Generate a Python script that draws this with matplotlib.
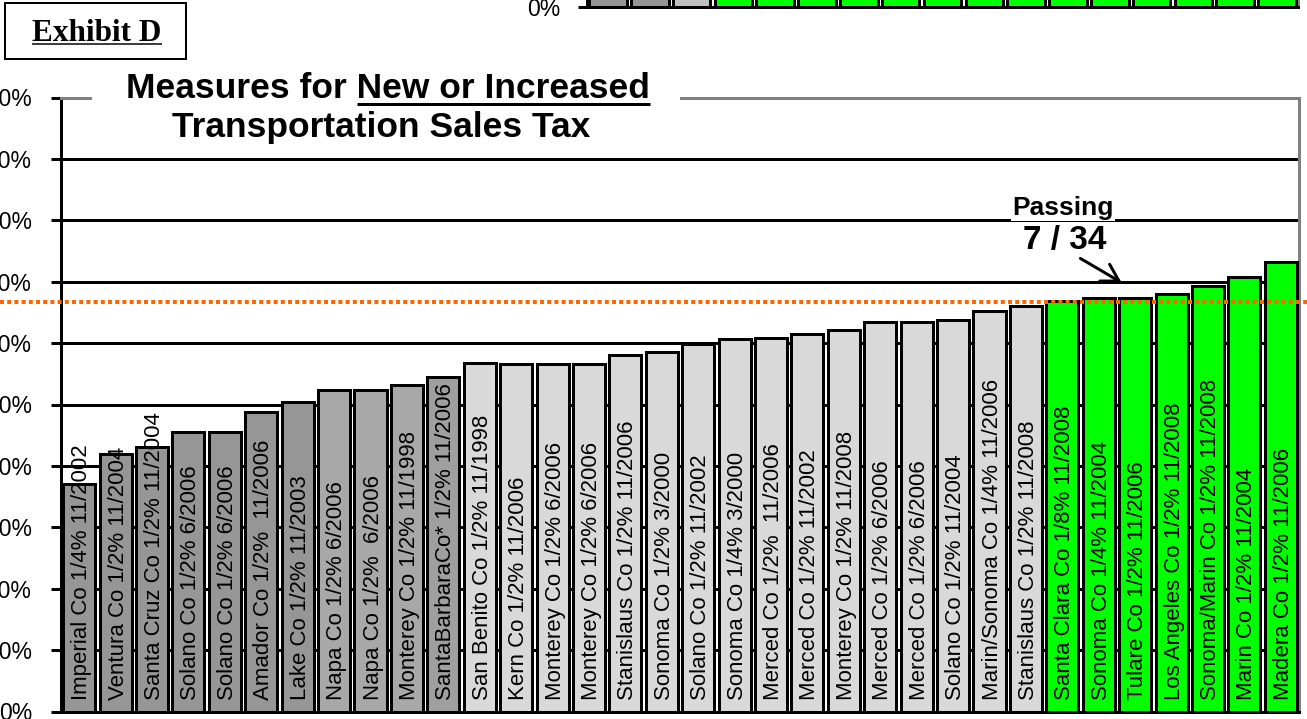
import matplotlib
matplotlib.use("Agg")
import matplotlib.pyplot as plt
import numpy as np
from matplotlib.patches import Rectangle, FancyArrowPatch
from matplotlib.lines import Line2D
from matplotlib.ticker import PercentFormatter

plt.rcParams['font.family'] = ['Liberation Sans', 'DejaVu Sans']

# ---------------- data ----------------
labels = [
    "Imperial Co 1/4% 11/2002", "Ventura Co 1/2% 11/2004", "Santa Cruz Co 1/2% 11/2004",
    "Solano Co 1/2% 6/2006", "Solano Co 1/2% 6/2006", "Amador Co 1/2%  11/2006",
    "Lake Co 1/2% 11/2003", "Napa Co 1/2% 6/2006", "Napa Co 1/2%  6/2006",
    "Monterey Co 1/2% 11/1998", "SantaBarbaraCo* 1/2% 11/2006", "San Benito Co 1/2% 11/1998",
    "Kern Co 1/2% 11/2006", "Monterey Co 1/2% 6/2006", "Monterey Co 1/2% 6/2006",
    "Stanislaus Co 1/2% 11/2006", "Sonoma Co 1/2% 3/2000", "Solano Co 1/2% 11/2002",
    "Sonoma Co 1/4% 3/2000", "Merced Co 1/2%  11/2006", "Merced Co 1/2% 11/2002",
    "Monterey Co 1/2% 11/2008", "Merced Co 1/2% 6/2006", "Merced Co 1/2% 6/2006",
    "Solano Co 1/2% 11/2004", "Marin/Sonoma Co 1/4% 11/2006", "Stanislaus Co 1/2% 11/2008",
    "Santa Clara Co 1/8% 11/2008", "Sonoma Co 1/4% 11/2004", "Tulare Co 1/2% 11/2006",
    "Los Angeles Co 1/2% 11/2008", "Sonoma/Marin Co 1/2% 11/2008", "Marin Co 1/2% 11/2004",
    "Madera Co 1/2% 11/2006",
]
values = [37.1, 41.9, 43.0, 45.5, 45.5, 48.8, 50.4, 52.4, 52.4, 53.1, 54.4, 56.7,
          56.6, 56.6, 56.6, 58.0, 58.6, 59.9, 60.6, 60.9, 61.5, 62.2, 63.5, 63.4,
          63.75, 65.3, 66.0, 66.8, 67.3, 67.3, 68.0, 69.3, 70.8, 73.2]
status = (['dark'] * 7 + ['mid'] * 3 + ['sb'] + ['light'] * 16 + ['green'] * 7)
threshold = 2 / 3
passing_text = "Passing"
passing_count = "7 / 34"
title_line1 = "Measures for New or Increased"
title_underlined = "New or Increased"
title_line2 = "Transportation Sales Tax"
exhibit = "Exhibit D"

# partially visible chart above (only its base is in view)
top_values = [45, 50, 60, 67, 68, 69, 70, 71, 72, 73, 74, 75, 76, 78, 80, 82, 85]
top_status = ['dark', 'dark', 'light2'] + ['green'] * 14

color_map = {'dark': '#969696', 'mid': '#A8A8A8', 'sb': '#9F9F9F',
             'light': '#D9D9D9', 'light2': '#C0C0C0', 'green': '#00FF00'}

# ---------------- figure ----------------
W, H, DPI = 1307, 719, 100
fig = plt.figure(figsize=(W / DPI, H / DPI), dpi=DPI)


def fx(x):
    return x / W


def fy(y):
    return 1 - y / H


px = 72 / DPI  # points per pixel

# main axes
ax = fig.add_axes([fx(61), fy(711.5), fx(1299) - fx(61), fy(97.5) - fy(711.5)])
xs = np.arange(len(values))
ax.bar(xs, np.array(values) / 100, width=0.88,
       color=[color_map[s] for s in status], edgecolor='black',
       linewidth=3 * px, zorder=3)
ax.set_xlim(-0.5, len(values) - 0.5)
ax.set_ylim(0, 1)
yt = np.round(np.arange(0, 1.0001, 0.1), 2)
ax.set_yticks(yt)
ax.yaxis.set_major_formatter(PercentFormatter(1.0, decimals=0))
ax.tick_params(axis='y', direction='out', length=10 * px, width=3 * px,
               labelsize=16.5, pad=19 * px, colors='black')
ax.set_xticks([])
for v in yt[1:-1]:
    ax.axhline(v, color='black', lw=3 * px, zorder=1)
for side in ('left', 'bottom'):
    ax.spines[side].set_color('black')
    ax.spines[side].set_linewidth(3 * px)
for side in ('top', 'right'):
    ax.spines[side].set_color('#808080')
    ax.spines[side].set_linewidth(3 * px)

for i, lab in enumerate(labels):
    ax.text(xs[i] + 0.07, 0.019, lab, rotation=90, rotation_mode='anchor',
            ha='left', va='center', fontsize=16, color='black', zorder=5)

# 2/3 threshold line
x0 = (0 - 61) / (1299 - 61)
x1 = (W - 61) / (1299 - 61)
ax.axhline(threshold, xmin=x0, xmax=x1, color='#FF6600', lw=4 * px,
           linestyle=(0, (1, 0.8)), zorder=6, clip_on=False)

# top partial chart
ax2 = fig.add_axes([fx(587), fy(7), fx(1298) - fx(587), 0.85])
xs2 = np.arange(len(top_values))
ax2.bar(xs2, np.array(top_values) / 100, width=0.9,
        color=[color_map[s] for s in top_status], edgecolor='black',
        linewidth=3 * px, zorder=3)
ax2.set_xlim(-0.5, len(top_values) - 0.5)
ax2.set_ylim(0, 1)
ax2.set_yticks([0])
ax2.yaxis.set_major_formatter(PercentFormatter(1.0, decimals=0))
ax2.tick_params(axis='y', direction='out', length=9 * px, width=3 * px,
                labelsize=16.5, pad=18 * px)
ax2.set_xticks([])
for side in ('left', 'bottom'):
    ax2.spines[side].set_color('black')
    ax2.spines[side].set_linewidth(3 * px)
ax2.spines['top'].set_visible(False)
ax2.spines['right'].set_color('#808080')
ax2.spines['right'].set_linewidth(3 * px)

# title (white background over the frame)
TFS = 25.5
fig.add_artist(Rectangle((fx(92), fy(146)), fx(680) - fx(92), fy(76) - fy(146),
                         transform=fig.transFigure, facecolor='white',
                         edgecolor='none', zorder=5))
t1 = fig.text(fx(388), fy(98.5), title_line1, ha='center', va='baseline',
              fontsize=TFS, fontweight='bold', zorder=6)
t2 = fig.text(fx(381), fy(137), title_line2, ha='center', va='baseline',
              fontsize=TFS, fontweight='bold', zorder=6)

# exhibit box
fig.add_artist(Rectangle((fx(5), fy(59)), fx(186) - fx(5), fy(3) - fy(59),
                         transform=fig.transFigure, facecolor='white',
                         edgecolor='black', lw=2 * px, zorder=5))
te = fig.text(fx(97), fy(41), exhibit, ha='center', va='baseline',
              fontsize=22.5, fontweight='bold', family='Liberation Serif', zorder=6)

# passing annotation
fig.text(fx(1063), fy(208), passing_text, ha='center', va='center',
         fontsize=19, fontweight='bold', zorder=6,
         bbox=dict(facecolor='white', edgecolor='none', pad=1))
fig.text(fx(1065), fy(240), passing_count, ha='center', va='center',
         fontsize=24, fontweight='bold', zorder=6)
fig.add_artist(FancyArrowPatch((fx(1078), fy(257)), (fx(1124), fy(284)),
                               transform=fig.transFigure,
                               arrowstyle='->,head_length=0.6,head_width=0.35',
                               mutation_scale=20, lw=3 * px, color='black',
                               zorder=6))

# underlines
fig.canvas.draw()
r = fig.canvas.get_renderer()
bb1 = t1.get_window_extent(r)
tmp = fig.text(0, 0, title_underlined, fontsize=TFS, fontweight='bold')
wsub = tmp.get_window_extent(r).width
tmp.remove()
base1 = fy(98.5) * fig.bbox.height
fig.add_artist(Line2D([(bb1.x1 - wsub) / fig.bbox.width, bb1.x1 / fig.bbox.width],
                      [(base1 - 5.5) / fig.bbox.height] * 2,
                      transform=fig.transFigure, color='black', lw=3 * px,
                      solid_capstyle='butt', zorder=6))
bbe = te.get_window_extent(r)
basee = fy(41) * fig.bbox.height
fig.add_artist(Line2D([bbe.x0 / fig.bbox.width, bbe.x1 / fig.bbox.width],
                      [(basee - 2.5) / fig.bbox.height] * 2,
                      transform=fig.transFigure, color='black', lw=1.5 * px,
                      solid_capstyle='butt', zorder=6))

fig.savefig('out.png', dpi=DPI)
